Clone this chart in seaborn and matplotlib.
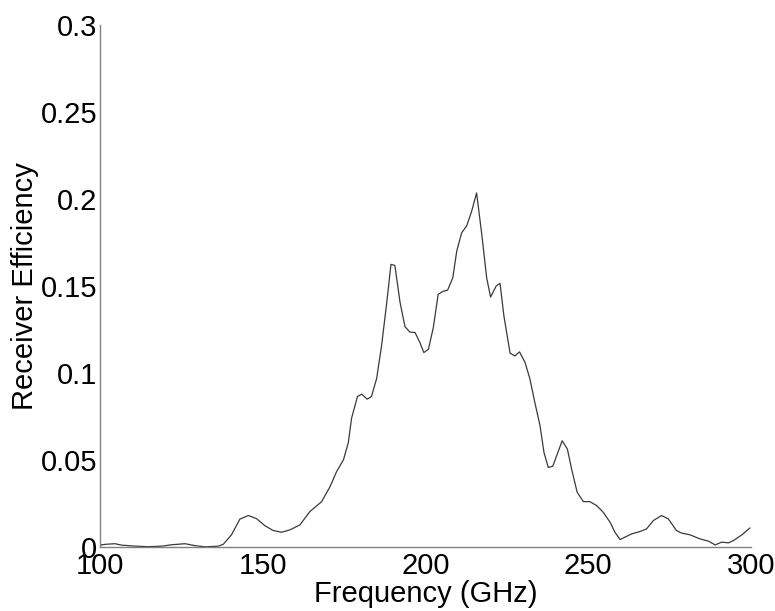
import numpy as np
import pandas as pd
import matplotlib
matplotlib.use("Agg")
import matplotlib.pyplot as plt
import seaborn as sns

# -----------------------------------------
# DATA
# -----------------------------------------
freq = [100, 100.5, 102, 104.6, 106.6, 110, 114.8, 119, 122, 126.1, 129.2,
        132.3, 136.4, 137.9, 140.4, 143.0, 145.6, 148.1, 150.7, 153.2, 155.8,
        158.4, 161.4, 164.5, 168.1, 170.7, 172.7, 174.8, 176.3, 177.3, 179.1,
        180.4, 182.1, 183.4, 185.0, 186.5, 188.1, 189.4, 190.6, 192.2, 193.7,
        195.2, 196.8, 198.3, 199.5, 200.9, 202.4, 203.9, 205.5, 206.8, 208.4,
        209.6, 211.1, 212.7, 214.2, 215.7, 217.3, 218.8, 220.0, 221.7, 222.9,
        224.1, 226.0, 227.5, 228.9, 230.6, 232.1, 233.6, 235.2, 236.4, 237.7,
        239.1, 240.5, 242.0, 243.6, 244.9, 246.6, 248.5, 250.5, 252.6, 254.6,
        256.7, 258.2, 259.8, 261.3, 263.4, 265.9, 267.9, 270.0, 272.5, 274.6,
        277.1, 278.7, 281.3, 284.3, 286.9, 289.0, 291.0, 293.1, 294.6, 297.2,
        299.7]
efficiency = [0.0005, 0.0012, 0.0015, 0.0018, 0.001, 0.0005, 0.0001, 0.0004,
              0.0012, 0.0018, 0.0007, 0.0, 0.0004, 0.0015, 0.0069, 0.0160,
              0.0180, 0.0162, 0.0121, 0.0094, 0.0084, 0.0098, 0.0126, 0.0203,
              0.0260, 0.0347, 0.0433, 0.0500, 0.0600, 0.0740, 0.0864, 0.0878,
              0.0849, 0.0864, 0.0968, 0.1155, 0.1404, 0.1624, 0.1618, 0.1404,
              0.1266, 0.1235, 0.1232, 0.1174, 0.1117, 0.1136, 0.1260, 0.1452,
              0.1470, 0.1476, 0.1547, 0.1700, 0.1805, 0.1847, 0.1930, 0.2035,
              0.1796, 0.1547, 0.1436, 0.1499, 0.1515, 0.1327, 0.1113, 0.1098,
              0.1121, 0.1060, 0.0964, 0.0830, 0.0696, 0.0543, 0.0457, 0.0463,
              0.0534, 0.0610, 0.0562, 0.0447, 0.0314, 0.0260, 0.0260, 0.0237,
              0.0199, 0.0142, 0.0084, 0.0042, 0.0056, 0.0075, 0.0088, 0.0103,
              0.0151, 0.0180, 0.0161, 0.0094, 0.0079, 0.0069, 0.0046, 0.0033,
              0.0011, 0.0027, 0.0023, 0.0036, 0.0069, 0.0109]

xticks = [100, 150, 200, 250, 300]
yticks = [0, 0.05, 0.1, 0.15, 0.2, 0.25, 0.3]
ytick_labels = ["0", "0.05", "0.1", "0.15", "0.2", "0.25", "0.3"]

df = pd.DataFrame({"Frequency": freq, "Efficiency": efficiency})

# -----------------------------------------
# PLOT
# -----------------------------------------
sns.set_style("white")
plt.rcParams["font.family"] = ["Liberation Sans", "DejaVu Sans"]

fig = plt.figure(figsize=(7.75, 6.11), dpi=100)
ax = fig.add_axes([0.129, 0.105, 0.840, 0.854])

sns.lineplot(data=df, x="Frequency", y="Efficiency", ax=ax,
             color="#3a3a3a", linewidth=0.9)

ax.set_xlim(100, 300)
ax.set_ylim(0, 0.3)
ax.set_xticks(xticks)
ax.set_yticks(yticks)
ax.set_yticklabels(ytick_labels)

for side in ["top", "right"]:
    ax.spines[side].set_visible(False)
for side in ["left", "bottom"]:
    ax.spines[side].set_color("#808080")
    ax.spines[side].set_linewidth(1.0)

ax.tick_params(axis="both", direction="in", length=5, width=0.8,
               color="#808080", labelsize=21, labelcolor="black", pad=2)
ax.tick_params(axis="x", pad=4)

ax.set_xlabel("Frequency (GHz)", fontsize=21, color="black", labelpad=0)
ax.set_ylabel("Receiver Efficiency", fontsize=21, color="black", labelpad=1)

plt.savefig("out.png", dpi=100)
